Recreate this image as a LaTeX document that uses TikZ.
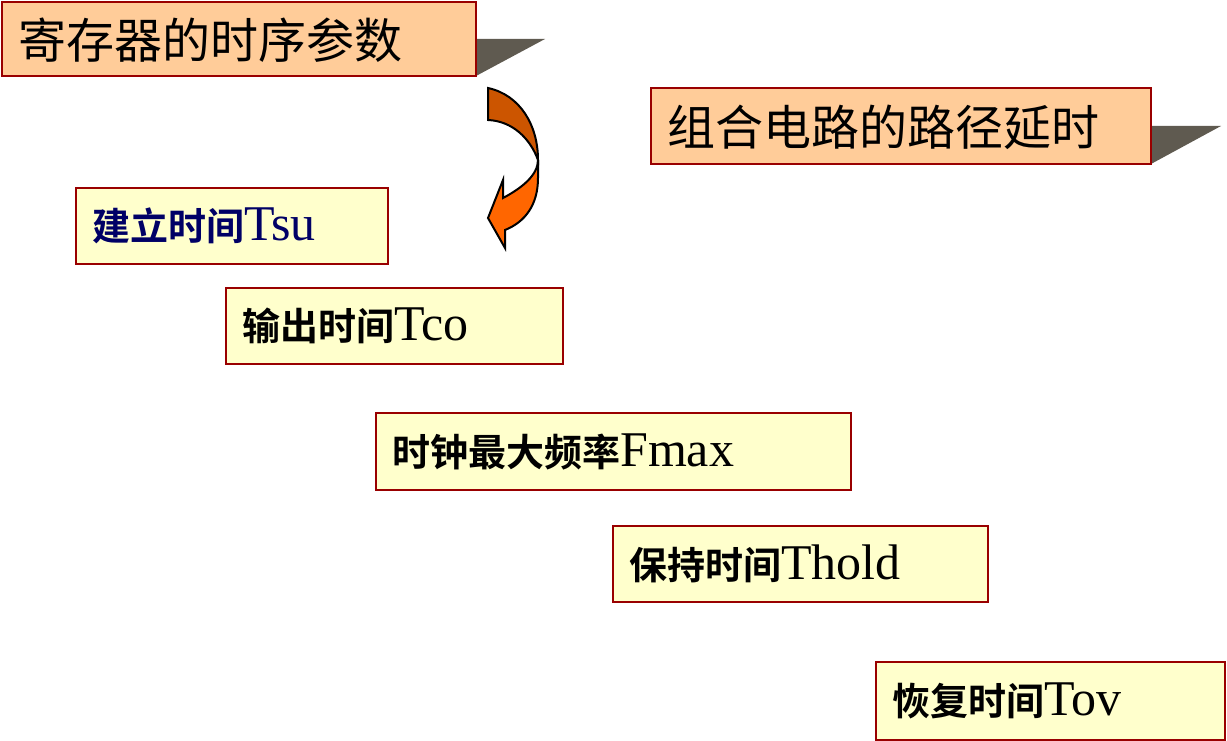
\documentclass[tikz,border=0pt]{standalone}
\usepackage{fontspec}
\newfontfamily\cjk{Noto Sans CJK SC}
\newfontfamily\cjkb{Noto Sans CJK SC Bold}
\newfontfamily\lat{Liberation Serif}
\begin{document}
\begin{tikzpicture}[x=1pt,y=-1pt,
  title/.style={draw=red!60!black,line width=1.5pt,fill={rgb,255:red,255;green,204;blue,153}},
  item/.style={draw=red!60!black,line width=1.5pt,fill={rgb,255:red,255;green,255;blue,204}},
  shadow/.style={fill={rgb,255:red,95;green,90;blue,80}},
  lbl/.style={anchor=west,inner sep=0pt}]
\useasboundingbox (0,0) rectangle (1227,741);
% titles
\fill[shadow] (476,39) -- (545,39) -- (476,76) -- cycle;
\draw[title] (2,2) rectangle (476,76);
\node[lbl] (t1) at (18,40) {\cjk\fontsize{48}{48}\selectfont 寄存器的时序参数};
\fill[shadow] (1151,126) -- (1221,126) -- (1151,164) -- cycle;
\draw[title] (651,88) rectangle (1151,164);
\node[lbl] (t2) at (667,127) {\cjk\fontsize{48}{48}\selectfont 组合电路的路径延时};
% arrow
\draw[line width=2pt,fill={rgb,255:red,204;green,85;blue,0}]
 (488,88) .. controls (520,95) and (538,125) .. (538,160) .. controls (530,138) and (512,121) .. (488,120) -- cycle;
\draw[line width=2pt,fill={rgb,255:red,255;green,102;blue,0}]
 (538,160) -- (538,178) .. controls (538,205) and (525,222) .. (505,230) -- (505,248) -- (488,218) -- (503,180) -- (503,198) .. controls (522,188) and (538,175) .. (538,160) -- cycle;
% items
\newcommand\itm[6]{\draw[item] (#1,#2) rectangle (#3,#4);
 \node[lbl,text=#6] at (#1+16,{(#2+#4)/2}) {\cjkb\fontsize{38}{38}\selectfont #5};}
\itm{76}{188}{388}{264}{建立时间{\lat\fontsize{50}{50}\selectfont Tsu}}{blue!40!black}
\itm{226}{288}{563}{364}{输出时间{\lat\fontsize{50}{50}\selectfont Tco}}{black}
\itm{376}{413}{851}{490}{时钟最大频率{\lat\fontsize{50}{50}\selectfont Fmax}}{black}
\itm{613}{526}{988}{602}{保持时间{\lat\fontsize{50}{50}\selectfont Thold}}{black}
\itm{876}{662}{1225}{740}{恢复时间{\lat\fontsize{50}{50}\selectfont Tov}}{black}
\end{tikzpicture}
\end{document}
